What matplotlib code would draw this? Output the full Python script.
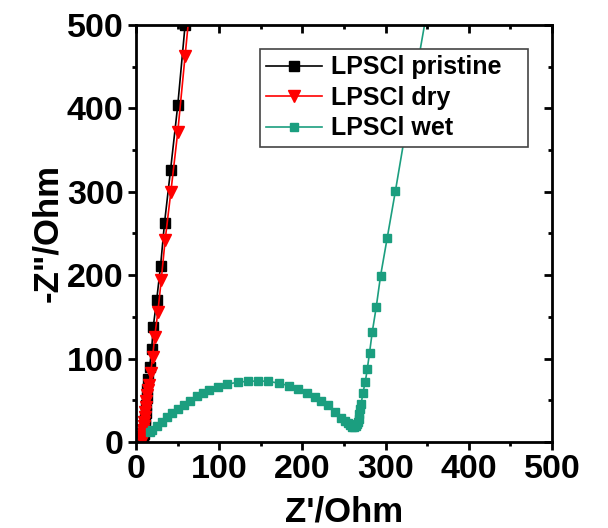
import matplotlib
matplotlib.use("Agg")
from matplotlib import pyplot as plt
from matplotlib.ticker import MultipleLocator

# Nyquist data (Z' , -Z'' in Ohm)
pristine_x = [8.5, 9.0, 9.5, 10.0, 10.5, 11.0, 11.5, 12.0, 12.8, 13.8, 14.8, 16.4, 18.8,
              20.7, 24.8, 29.5, 34.3, 41.5, 50.2, 59.0, 67.0]
pristine_y = [2, 5, 9, 14, 20, 27, 35, 44, 53, 63, 75, 90, 111,
              138, 170, 211, 263, 326, 404, 500, 580]

dry_x = [7.0, 7.5, 8.0, 8.5, 9.0, 9.5, 10.0, 10.5, 11.0, 11.8, 12.6, 13.5, 14.5, 15.6,
         17.6, 20.0, 22.4, 26.3, 30.3, 35.0, 41.9, 50.2, 59.0, 67.0]
dry_y = [1, 3, 6, 10, 14, 19, 24, 30, 36, 42, 49, 56, 62, 68,
         83, 102, 126, 156, 194, 242, 300, 372, 463, 545]

wet_x = [17.0, 19.5, 25.5, 31.5, 37.5, 43.5, 50.6, 57.4, 65.4, 73.4, 80.1, 88.1, 98.5,
         109.6, 122.0, 134.4, 147.1, 159.1, 171.9, 183.8, 195.0, 206.1, 215.0, 222.9,
         230.9, 238.9, 246.8, 251.0, 254.8, 257.5, 260.0, 262.0, 264.0, 265.5, 266.5,
         267.5, 268.5, 269.5, 270.7, 272.7, 275.5, 277.9, 280.7, 283.9, 288.7, 293.9,
         301.8, 311.8, 324.0, 338.0, 352.0]
wet_y = [12.0, 14.4, 19.2, 24.4, 29.6, 34.4, 39.2, 44.4, 49.5, 55.2, 58.4, 62.4, 66.3,
         69.2, 71.6, 72.8, 73.1, 72.8, 70.4, 67.5, 63.5, 58.4, 54.3, 49.2,
         44.4, 36.4, 28.4, 25.0, 22.4, 20.0, 18.5, 18.0, 19.0, 21.0, 24.0,
         28.0, 33.0, 39.0, 46.0, 59.0, 71.6, 87.0, 107.0, 131.5, 161.5, 199.0,
         244.0, 301.0, 373.0, 450.0, 530.0]

green = '#1b9e7f'

plt.rcParams['font.family'] = ['Liberation Sans', 'DejaVu Sans']
plt.rcParams['font.weight'] = 'bold'

fig = plt.figure(figsize=(6.08, 5.28), dpi=100)
ax = fig.add_axes([0.2237, 0.1629, 0.6842, 0.7898])

ax.plot(pristine_x, pristine_y, '-s', color='black', lw=1.2, ms=7, label='LPSCl pristine')
ax.plot(dry_x, dry_y, '-v', color='red', lw=1.2, ms=8, label='LPSCl dry')
ax.plot(wet_x, wet_y, '-s', color=green, lw=1.2, ms=6, label='LPSCl wet')

ax.set_xlim(0, 500)
ax.set_ylim(0, 500)
ax.xaxis.set_major_locator(MultipleLocator(100))
ax.yaxis.set_major_locator(MultipleLocator(100))
ax.xaxis.set_minor_locator(MultipleLocator(50))
ax.yaxis.set_minor_locator(MultipleLocator(50))

for s in ax.spines.values():
    s.set_linewidth(2)

ax.tick_params(which='major', direction='out', length=6, width=2, labelsize=24.5, pad=3)
ax.tick_params(which='minor', direction='out', length=3, width=2)
# mirrored ticks on top/right point inward
ax2 = ax.secondary_xaxis('top')
ax2.xaxis.set_major_locator(MultipleLocator(100))
ax2.xaxis.set_minor_locator(MultipleLocator(50))
ax2.tick_params(which='major', direction='in', length=6, width=2, labeltop=False)
ax2.tick_params(which='minor', direction='in', length=3, width=2)
ax3 = ax.secondary_yaxis('right')
ax3.yaxis.set_major_locator(MultipleLocator(100))
ax3.yaxis.set_minor_locator(MultipleLocator(50))
ax3.tick_params(which='major', direction='in', length=6, width=2, labelright=False)
ax3.tick_params(which='minor', direction='in', length=3, width=2)

ax.set_xlabel("Z'/Ohm", fontsize=25, fontweight='bold', labelpad=7)
ax.set_ylabel('-Z"/Ohm', fontsize=25, fontweight='bold', labelpad=2)

leg = ax.legend(loc='upper left', bbox_to_anchor=(0.298, 0.6, 0.644, 0.342), mode='expand',
                fontsize=18, frameon=True, fancybox=False, edgecolor='#444444',
                framealpha=1, handlelength=2.24, handletextpad=0.36, borderpad=0.25,
                labelspacing=0.26, borderaxespad=0)
leg.get_frame().set_linewidth(1.2)
leg.set_zorder(10)

fig.savefig('out.png', dpi=100)
